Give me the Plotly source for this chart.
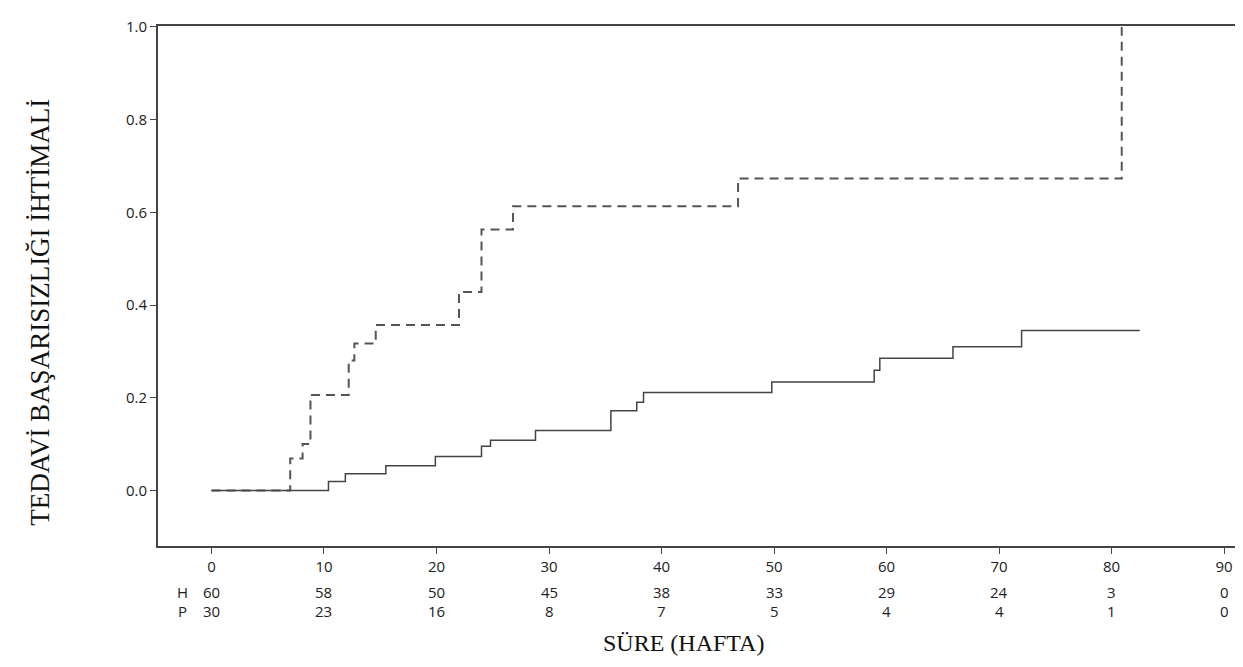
import plotly.graph_objects as go

# step curves (time in weeks, cumulative failure probability)
p_time = [0, 7.0, 8.1, 8.8, 12.2, 12.7, 14.6, 22.0, 24.0, 26.8, 46.8, 80.9]
p_prob = [0, 0.069, 0.10, 0.206, 0.28, 0.317, 0.357, 0.428, 0.563, 0.613, 0.673, 1.0]

h_time = [0, 10.4, 11.9, 15.5, 19.9, 24.0, 24.8, 28.8, 35.5, 37.8, 38.4, 49.8, 58.9, 59.4, 65.9, 72.0, 82.5]
h_prob = [0, 0.019, 0.036, 0.053, 0.073, 0.095, 0.108, 0.129, 0.172, 0.19, 0.211, 0.234, 0.259, 0.285, 0.31, 0.345, 0.345]

# number at risk table
risk_times = [0, 10, 20, 30, 40, 50, 60, 70, 80, 90]
risk_h = [60, 58, 50, 45, 38, 33, 29, 24, 3, 0]
risk_p = [30, 23, 16, 8, 7, 5, 4, 4, 1, 0]

line_col = "#444444"
tick_font = dict(family="Open Sans", size=15, color="#222")

fig = go.Figure()
fig.add_trace(go.Scatter(x=p_time, y=p_prob, mode="lines", line_shape="hv",
                         line=dict(color="#555", width=2, dash="9px,6px")))
fig.add_trace(go.Scatter(x=h_time, y=h_prob, mode="lines", line_shape="hv",
                         line=dict(color="#444", width=1.5)))

annots = []
for t, h, p in zip(risk_times, risk_h, risk_p):
    annots.append(dict(x=t, y=-0.112, xref="x", yref="paper", text=str(h),
                       showarrow=False, font=tick_font))
    annots.append(dict(x=t, y=-0.149, xref="x", yref="paper", text=str(p),
                       showarrow=False, font=tick_font))
annots.append(dict(x=-2.6, y=-0.112, xref="x", yref="paper", text="H", showarrow=False, font=tick_font))
annots.append(dict(x=-2.6, y=-0.149, xref="x", yref="paper", text="P", showarrow=False, font=tick_font))
annots.append(dict(x=0.485, y=-0.215, xref="paper", yref="paper", text="SÜRE (HAFTA)", showarrow=False,
                   font=dict(family="Liberation Serif", size=24, color="#111")))
annots.append(dict(x=-0.125, y=0.45, xref="paper", yref="paper", text="TEDAVİ BAŞARISIZLIĞI İHTİMALİ",
                   showarrow=False, textangle=-90,
                   font=dict(family="Liberation Serif", size=27, color="#111")))

fig.update_layout(
    width=1243, height=667,
    margin=dict(l=150, r=8, t=12, b=129),
    paper_bgcolor="white", plot_bgcolor="white",
    showlegend=False,
    annotations=annots,
    xaxis=dict(range=[-4.75, 91.5], tickvals=risk_times, showgrid=False, zeroline=False,
               showline=True, mirror=True, linecolor=line_col, linewidth=2,
               ticks="outside", ticklen=6, tickcolor=line_col, tickfont=tick_font),
    yaxis=dict(range=[-0.12, 1.002], tickvals=[0, 0.2, 0.4, 0.6, 0.8, 1.0],
               ticktext=["0.0", "0.2", "0.4", "0.6", "0.8", "1.0"], showgrid=False, zeroline=False,
               showline=True, mirror=True, linecolor=line_col, linewidth=2,
               ticks="outside", ticklen=6, tickcolor=line_col, tickfont=tick_font),
)

fig.write_html("out.html")
